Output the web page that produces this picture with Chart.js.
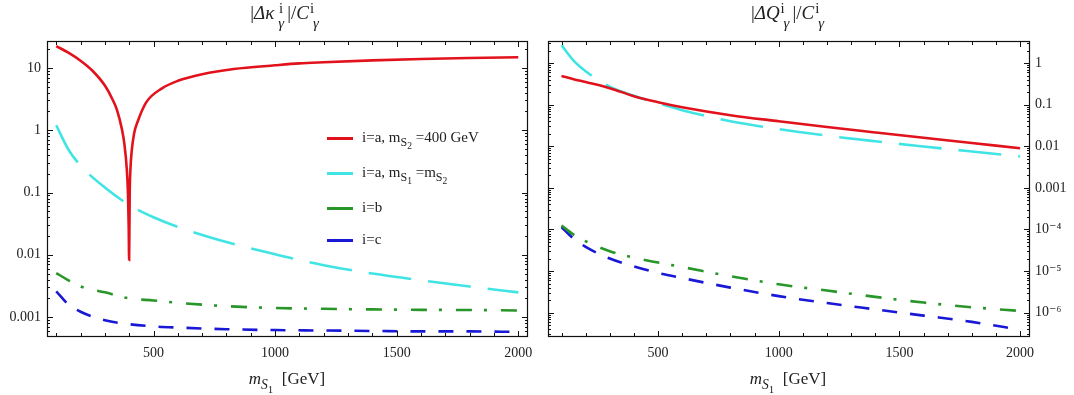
<!DOCTYPE html>
<html>
<head>
<meta charset="utf-8">
<script src="https://cdn.jsdelivr.net/npm/chart.js@4.4.0/dist/chart.umd.min.js"></script>
<style>
  body { margin: 0; background: #fff; width: 1074px; height: 395px; position: relative; overflow: hidden;
         font-family: "Liberation Serif", "DejaVu Serif", serif; color: #222; }
  canvas { position: absolute; top: 0; }
  #c1 { left: 0; }
  #c2 { left: 540px; }
  .ttl { position: absolute; top: 1px; font-size: 19px; white-space: nowrap; transform: translateX(-50%); }
  .ss { display: inline-block; vertical-align: -0.6em; font-size: 0.78em; line-height: 1.0em; text-align: left; margin: 0 3px 0 1px; }
  .ss span { display: block; }
  .ss span:last-child { padding-left: 3px; }
  .xl { position: absolute; top: 369px; font-size: 17px; white-space: nowrap; transform: translateX(-50%); }
  .xl sub, .lg sub { font-size: 0.8em; vertical-align: -0.35em; }
  .lg { position: absolute; left: 327px; font-size: 15px; white-space: nowrap; line-height: 16px; }
  .lg i { display: inline-block; width: 26px; height: 3px; vertical-align: middle; margin-right: 9px; }
</style>
</head>
<body>
<canvas id="c1" width="540" height="395"></canvas>
<canvas id="c2" width="534" height="395"></canvas>

<div class="ttl" style="left:286px">|<i>Δκ</i><span class="ss"><span>&nbsp;i</span><span><i>γ</i></span></span>|/<i>C</i><span class="ss"><span>i</span><span><i>γ</i></span></span></div>
<div class="ttl" style="left:789px">|<i>ΔQ</i><span class="ss"><span>i</span><span><i>γ</i></span></span>|/<i>C</i><span class="ss"><span>i</span><span><i>γ</i></span></span></div>

<div class="xl" style="left:287px"><i>m</i><sub><i>S</i><sub>1</sub></sub>&nbsp; [GeV]</div>
<div class="xl" style="left:788px"><i>m</i><sub><i>S</i><sub>1</sub></sub>&nbsp; [GeV]</div>

<div class="lg" style="top:129px"><i style="background:rgb(226,18,28)"></i>i=a, m<sub>S<sub>2</sub></sub> =400 GeV</div>
<div class="lg" style="top:164px"><i style="background:rgb(64,228,228)"></i>i=a, m<sub>S<sub>1</sub></sub> =m<sub>S<sub>2</sub></sub></div>
<div class="lg" style="top:199px"><i style="background:rgb(40,150,40)"></i>i=b</div>
<div class="lg" style="top:231px"><i style="background:rgb(24,24,214)"></i>i=c</div>

<script>
// left panel: |Δκ|/C, red curve has a dip at m = 400 GeV
const massRed = [100, 150, 200, 250, 300, 330, 350, 370, 380, 390, 395, 398, 399.7, 402, 405, 410, 420, 435, 470, 535, 600, 700, 830, 1000, 1100, 1200, 1400, 1600, 1800, 2000];
const kappaRed = [22.4, 17.5, 13.0, 8.9, 5.2, 3.2, 2.1, 1.04, 0.61, 0.24, 0.096, 0.028, 0.0083, 0.09, 0.23, 0.45, 0.88, 1.38, 2.8, 4.7, 6.2, 7.9, 9.6, 11.0, 11.8, 12.3, 13.2, 13.9, 14.4, 14.8];

const mass = [100, 150, 200, 300, 400, 500, 600, 800, 1000, 1200, 1400, 1600, 1800, 2000];
const kappaCyan  = [1.2, 0.49, 0.27, 0.12, 0.063, 0.040, 0.028, 0.016, 0.0102, 0.0068, 0.005, 0.0039, 0.0031, 0.0025];
const kappaGreen = [0.0051, 0.0039, 0.0031, 0.0025, 0.0020, 0.00185, 0.0017, 0.0015, 0.0014, 0.00136, 0.00133, 0.00131, 0.0013, 0.00128];
const kappaBlue  = [0.0026, 0.0016, 0.00122, 0.00089, 0.00077, 0.00071, 0.00068, 0.00064, 0.00062, 0.00061, 0.0006, 0.00059, 0.00059, 0.00058];

// right panel: |ΔQ|/C
const qRed   = [0.49, 0.41, 0.35, 0.25, 0.16, 0.115, 0.087, 0.056, 0.040, 0.029, 0.0215, 0.016, 0.012, 0.009];
const qCyan  = [2.7, 1.15, 0.64, 0.27, 0.165, 0.108, 0.074, 0.040, 0.026, 0.018, 0.0132, 0.0099, 0.0075, 0.0057];
const qGreen = [1.25e-4, 7.5e-5, 5.2e-5, 3.0e-5, 2.1e-5, 1.6e-5, 1.25e-5, 7.5e-6, 4.8e-6, 3.4e-6, 2.4e-6, 1.75e-6, 1.35e-6, 1.1e-6];
const qBlue  = [1.15e-4, 6e-5, 3.8e-5, 2e-5, 1.3e-5, 9e-6, 6.8e-6, 4e-6, 2.5e-6, 1.7e-6, 1.2e-6, 8.5e-7, 6e-7, 3.9e-7];

const xTicks = [500, 1000, 1500, 2000];
const kappaTicks = [0.001, 0.01, 0.1, 1, 10];
const kappaTickLabels = ['0.001', '0.01', '0.1', '1', '10'];
const qTicks = [1e-6, 1e-5, 1e-4, 0.001, 0.01, 0.1, 1];
const qTickLabels = ['10\u207B\u2076', '10\u207B\u2075', '10\u207B\u2074', '0.001', '0.01', '0.1', '1'];

const RED = 'rgb(226,18,28)', CYAN = 'rgb(64,228,228)', GREEN = 'rgb(40,150,40)', BLUE = 'rgb(24,24,214)';
const tickFont = { family: '"Liberation Serif", "DejaVu Serif", serif', size: 14 };

// box frame with inward ticks on all four sides (Mathematica style)
const frame = {
  id: 'frame',
  afterDraw(chart) {
    const { ctx, chartArea: a, scales: { x, y } } = chart;
    ctx.save();
    ctx.strokeStyle = '#111';
    ctx.lineWidth = 1.2;
    ctx.strokeRect(a.left + 0.5, a.top + 0.5, a.right - a.left - 1, a.bottom - a.top - 1);
    ctx.lineWidth = 1;
    ctx.beginPath();
    for (let v = 100; v <= 2000; v += 100) {
      const px = Math.round(x.getPixelForValue(v)) + 0.5;
      const len = v % 500 === 0 ? 6 : 4;
      ctx.moveTo(px, a.bottom); ctx.lineTo(px, a.bottom - len);
      ctx.moveTo(px, a.top); ctx.lineTo(px, a.top + len);
    }
    const lo = Math.floor(Math.log10(y.min)), hi = Math.ceil(Math.log10(y.max));
    for (let e = lo; e <= hi; e++) {
      for (let k = 1; k <= 9; k++) {
        const v = k * Math.pow(10, e);
        if (v < y.min || v > y.max) continue;
        const py = Math.round(y.getPixelForValue(v)) + 0.5;
        const len = k === 1 ? 6 : 3;
        ctx.moveTo(a.left, py); ctx.lineTo(a.left + len, py);
        ctx.moveTo(a.right, py); ctx.lineTo(a.right - len, py);
      }
    }
    ctx.stroke();
    ctx.restore();
  }
};

function line(xs, ys, color, dash) {
  return {
    data: xs.map((m, i) => ({ x: m, y: ys[i] })),
    borderColor: color,
    borderWidth: 2.6,
    borderDash: dash,
    pointRadius: 0,
    fill: false,
    cubicInterpolationMode: 'monotone'
  };
}

function makeChart(id, datasets, xmin, xmax, ymin, ymax, yTicks, yLabels, ySide, pad) {
  return new Chart(document.getElementById(id), {
    type: 'line',
    data: { datasets },
    plugins: [frame],
    options: {
      responsive: false,
      animation: false,
      layout: { padding: pad },
      plugins: { legend: { display: false }, tooltip: { enabled: false } },
      scales: {
        x: {
          type: 'linear', min: xmin, max: xmax,
          grid: { display: false, drawTicks: false }, border: { display: false },
          ticks: { font: tickFont, color: '#222', padding: 8, maxRotation: 0, autoSkip: false,
                   callback: v => String(v) },
          afterBuildTicks: s => { s.ticks = xTicks.map(v => ({ value: v })); },
          afterFit: s => { s.height = 58; s.paddingLeft = 0; s.paddingRight = 0; }
        },
        y: {
          type: 'logarithmic', position: ySide, min: ymin, max: ymax,
          grid: { display: false, drawTicks: false }, border: { display: false },
          ticks: { font: tickFont, color: '#222', padding: ySide === 'left' ? 6 : 5, autoSkip: false,
                   callback: (v, i) => yLabels[i] },
          afterBuildTicks: s => { s.ticks = yTicks.map(v => ({ value: v })); },
          afterFit: s => { s.width = ySide === 'left' ? 47 : 44; s.paddingTop = 0; s.paddingBottom = 0; }
        }
      }
    }
  });
}

makeChart('c1', [
  line(massRed, kappaRed, RED, []),
  line(mass, kappaCyan, CYAN, [43, 17]),
  line(mass, kappaGreen, GREEN, [16, 12, 3, 14]),
  line(mass, kappaBlue, BLUE, [15, 13])
], 62, 2040, 4.8e-4, 27, kappaTicks, kappaTickLabels, 'left', { top: 41, left: 0, right: 12, bottom: 0 });

makeChart('c2', [
  line(mass, qRed, RED, []),
  line(mass, qCyan, CYAN, [43, 17]),
  line(mass, qGreen, GREEN, [16, 12, 3, 14]),
  line(mass, qBlue, BLUE, [15, 13])
], 44, 2041, 2.6e-7, 3.4, qTicks, qTickLabels, 'right', { top: 41, left: 8, right: 0, bottom: 0 });
</script>
</body>
</html>
